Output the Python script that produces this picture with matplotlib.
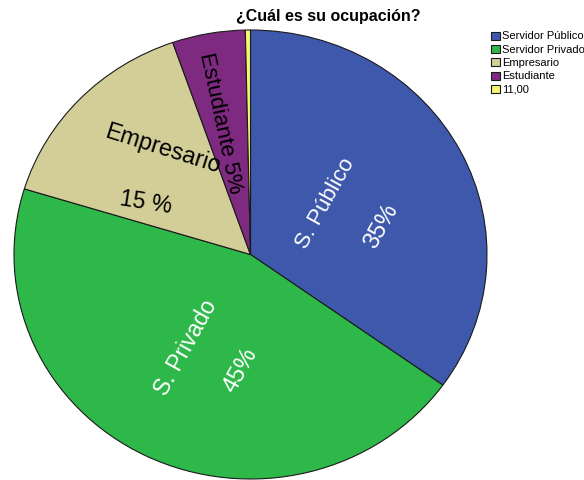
import numpy as np
import matplotlib.pyplot as plt

plt.rcParams['font.family'] = ['Liberation Sans', 'DejaVu Sans']

# ocupación (porcentaje)
categorias = ["Servidor Público", "Servidor Privado", "Empresario", "Estudiante", "11,00"]
porcentajes = [35, 45, 15, 5, 0.35]
colores = ["#3e58ac", "#2eb84a", "#d3ce98", "#7d2a80", "#f8f474"]

fig_dpi = 100
fig = plt.figure(dpi=fig_dpi, figsize=(584 / fig_dpi, 480 / fig_dpi))

# pie axes, slightly wider than tall
ax = fig.add_axes([14 / 584, 1 / 480, 473 / 584, 449 / 480])
wedges, _ = ax.pie(porcentajes, colors=colores, startangle=90, counterclock=False,
                   wedgeprops=dict(edgecolor="#1a1a1a", linewidth=0.8))
ax.set_aspect('auto')
ax.set_xlim(-1, 1)
ax.set_ylim(-1, 1)
ax.axis('off')

pct = ["{:.0f}%".format(p) for p in porcentajes]

ax.text(0.319, 0.229, "S. Público", color="white", fontsize=16, rotation=61,
        ha="center", va="center", rotation_mode="anchor")
ax.text(0.552, 0.127, pct[0], color="white", fontsize=17, rotation=61,
        ha="center", va="center", rotation_mode="anchor")
ax.text(-0.275, -0.414, "S. Privado", color="white", fontsize=16.5, rotation=61,
        ha="center", va="center", rotation_mode="anchor")
ax.text(-0.040, -0.514, pct[1], color="white", fontsize=17, rotation=61,
        ha="center", va="center", rotation_mode="anchor")
ax.text(-0.370, 0.470, "Empresario", color="black", fontsize=16.8, rotation=-17.5,
        ha="center", va="center", rotation_mode="anchor")
ax.text(-0.442, 0.229, pct[2].replace("%", " %"), color="black", fontsize=16.5, rotation=-9,
        ha="center", va="center", rotation_mode="anchor")
ax.text(-0.129, 0.586, "Estudiante " + pct[3], color="black", fontsize=16, rotation=-78,
        ha="center", va="center", rotation_mode="anchor")

fig.text(328 / 584, 1 - 17 / 480, "¿Cuál es su ocupación?", fontsize=11.5,
         fontweight="bold", ha="center", va="center")

fig.legend(wedges, categorias, loc="upper left", bbox_to_anchor=(487 / 584, 1 - 27 / 480),
           frameon=False, fontsize=8, handlelength=0.75, handleheight=0.75,
           handletextpad=0.2, labelspacing=0.3, borderaxespad=0)

fig.savefig("out.png", dpi=fig_dpi)
